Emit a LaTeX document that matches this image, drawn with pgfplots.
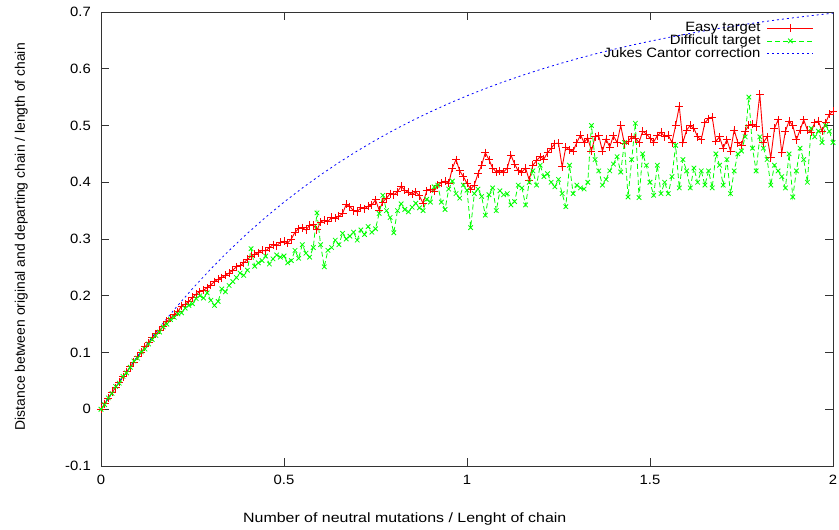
\documentclass[border=0pt]{standalone}
\usepackage{pgfplots}
\pgfplotsset{compat=1.18}
\usepackage{pgfplotstable}
\usepackage{fontspec}
\setmainfont{Liberation Sans}[FakeStretch=1.1]
\newfontfamily\xlabfont{Liberation Sans}[FakeStretch=1.18]
\newfontfamily\ylabfont{Liberation Sans}

\pgfplotstableread{
x y
0.00 0.000
0.01 0.010
0.02 0.019
0.03 0.030
0.04 0.038
0.05 0.048
0.06 0.057
0.07 0.066
0.08 0.075
0.09 0.083
0.10 0.093
0.11 0.100
0.12 0.110
0.13 0.117
0.14 0.127
0.15 0.133
0.16 0.139
0.17 0.146
0.18 0.155
0.19 0.160
0.20 0.167
0.21 0.172
0.22 0.182
0.23 0.185
0.24 0.190
0.25 0.197
0.26 0.203
0.27 0.207
0.28 0.210
0.29 0.214
0.30 0.219
0.31 0.225
0.32 0.229
0.33 0.232
0.34 0.236
0.35 0.240
0.36 0.245
0.37 0.251
0.38 0.253
0.39 0.258
0.40 0.264
0.41 0.270
0.42 0.273
0.43 0.276
0.44 0.280
0.45 0.279
0.46 0.285
0.47 0.290
0.48 0.288
0.49 0.294
0.50 0.296
0.51 0.293
0.52 0.300
0.53 0.312
0.54 0.318
0.55 0.320
0.56 0.316
0.57 0.324
0.58 0.325
0.59 0.316
0.60 0.330
0.61 0.333
0.62 0.331
0.63 0.338
0.64 0.337
0.65 0.340
0.66 0.345
0.67 0.361
0.68 0.357
0.69 0.350
0.70 0.348
0.71 0.355
0.72 0.353
0.73 0.358
0.74 0.360
0.75 0.369
0.76 0.351
0.77 0.365
0.78 0.372
0.79 0.380
0.80 0.378
0.81 0.383
0.82 0.393
0.83 0.386
0.84 0.382
0.85 0.379
0.86 0.383
0.87 0.376
0.88 0.363
0.89 0.385
0.90 0.388
0.91 0.384
0.92 0.395
0.93 0.399
0.94 0.402
0.95 0.398
0.96 0.425
0.97 0.440
0.98 0.420
0.99 0.410
1.00 0.398
1.01 0.388
1.02 0.395
1.03 0.415
1.04 0.430
1.05 0.452
1.06 0.440
1.07 0.425
1.08 0.418
1.09 0.420
1.10 0.418
1.11 0.425
1.12 0.448
1.13 0.432
1.14 0.420
1.15 0.418
1.16 0.425
1.17 0.404
1.18 0.430
1.19 0.438
1.20 0.445
1.21 0.441
1.22 0.452
1.23 0.460
1.24 0.468
1.25 0.469
1.26 0.427
1.27 0.462
1.28 0.457
1.29 0.455
1.30 0.470
1.31 0.483
1.32 0.470
1.33 0.478
1.34 0.455
1.35 0.480
1.36 0.482
1.37 0.455
1.38 0.476
1.39 0.462
1.40 0.482
1.41 0.470
1.42 0.500
1.43 0.468
1.44 0.472
1.45 0.480
1.46 0.478
1.47 0.470
1.48 0.490
1.49 0.485
1.50 0.478
1.51 0.471
1.52 0.482
1.53 0.488
1.54 0.480
1.55 0.483
1.56 0.470
1.57 0.500
1.58 0.534
1.59 0.470
1.60 0.492
1.61 0.500
1.62 0.495
1.63 0.480
1.64 0.475
1.65 0.505
1.66 0.512
1.67 0.515
1.68 0.472
1.69 0.480
1.70 0.460
1.71 0.475
1.72 0.455
1.73 0.492
1.74 0.470
1.75 0.465
1.76 0.490
1.77 0.500
1.78 0.502
1.79 0.498
1.80 0.555
1.81 0.470
1.82 0.480
1.83 0.443
1.84 0.495
1.85 0.510
1.86 0.452
1.87 0.490
1.88 0.508
1.89 0.500
1.90 0.475
1.91 0.492
1.92 0.510
1.93 0.492
1.94 0.488
1.95 0.505
1.96 0.508
1.97 0.490
1.98 0.505
1.99 0.520
2.00 0.525
}\easy

\pgfplotstableread{
x y
0.00 0.000
0.01 0.008
0.02 0.020
0.03 0.028
0.04 0.040
0.05 0.046
0.06 0.058
0.07 0.064
0.08 0.074
0.09 0.085
0.10 0.090
0.11 0.101
0.12 0.106
0.13 0.115
0.14 0.123
0.15 0.130
0.16 0.136
0.17 0.145
0.18 0.150
0.19 0.158
0.20 0.162
0.21 0.168
0.22 0.170
0.23 0.178
0.24 0.183
0.25 0.186
0.26 0.195
0.27 0.200
0.28 0.196
0.29 0.205
0.30 0.192
0.31 0.183
0.32 0.190
0.33 0.212
0.34 0.207
0.35 0.218
0.36 0.225
0.37 0.232
0.38 0.240
0.39 0.236
0.40 0.245
0.41 0.283
0.42 0.252
0.43 0.258
0.44 0.262
0.45 0.270
0.46 0.256
0.47 0.265
0.48 0.272
0.49 0.268
0.50 0.270
0.51 0.258
0.52 0.262
0.53 0.280
0.54 0.266
0.55 0.290
0.56 0.275
0.57 0.268
0.58 0.285
0.59 0.346
0.60 0.290
0.61 0.251
0.62 0.280
0.63 0.285
0.64 0.298
0.65 0.290
0.66 0.310
0.67 0.300
0.68 0.305
0.69 0.312
0.70 0.298
0.71 0.316
0.72 0.308
0.73 0.322
0.74 0.312
0.75 0.318
0.76 0.345
0.77 0.377
0.78 0.350
0.79 0.338
0.80 0.311
0.81 0.350
0.82 0.362
0.83 0.352
0.84 0.348
0.85 0.356
0.86 0.363
0.87 0.355
0.88 0.350
0.89 0.370
0.90 0.365
0.91 0.392
0.92 0.395
0.93 0.365
0.94 0.352
0.95 0.388
0.96 0.402
0.97 0.380
0.98 0.372
0.99 0.395
1.00 0.386
1.01 0.320
1.02 0.380
1.03 0.388
1.04 0.375
1.05 0.342
1.06 0.378
1.07 0.390
1.08 0.350
1.09 0.385
1.10 0.378
1.11 0.380
1.12 0.360
1.13 0.366
1.14 0.395
1.15 0.390
1.16 0.360
1.17 0.400
1.18 0.420
1.19 0.395
1.20 0.430
1.21 0.410
1.22 0.415
1.23 0.400
1.24 0.392
1.25 0.405
1.26 0.380
1.27 0.357
1.28 0.430
1.29 0.380
1.30 0.395
1.31 0.390
1.32 0.388
1.33 0.400
1.34 0.500
1.35 0.440
1.36 0.420
1.37 0.395
1.38 0.405
1.39 0.420
1.40 0.432
1.41 0.445
1.42 0.418
1.43 0.470
1.44 0.374
1.45 0.440
1.46 0.504
1.47 0.373
1.48 0.450
1.49 0.430
1.50 0.400
1.51 0.377
1.52 0.430
1.53 0.380
1.54 0.400
1.55 0.380
1.56 0.410
1.57 0.465
1.58 0.390
1.59 0.440
1.60 0.420
1.61 0.390
1.62 0.425
1.63 0.400
1.64 0.420
1.65 0.395
1.66 0.420
1.67 0.390
1.68 0.450
1.69 0.430
1.70 0.395
1.71 0.440
1.72 0.380
1.73 0.420
1.74 0.450
1.75 0.455
1.76 0.480
1.77 0.550
1.78 0.460
1.79 0.420
1.80 0.480
1.81 0.460
1.82 0.440
1.83 0.395
1.84 0.430
1.85 0.420
1.86 0.410
1.87 0.390
1.88 0.450
1.89 0.374
1.90 0.420
1.91 0.460
1.92 0.440
1.93 0.400
1.94 0.495
1.95 0.480
1.96 0.490
1.97 0.470
1.98 0.500
1.99 0.490
2.00 0.470
}\difficult

\pgfplotstableread{
x y
0.00 0.00000
0.05 0.04837
0.10 0.09362
0.15 0.13595
0.20 0.17555
0.25 0.21260
0.30 0.24726
0.35 0.27968
0.40 0.31001
0.45 0.33839
0.50 0.36494
0.55 0.38977
0.60 0.41300
0.65 0.43474
0.70 0.45507
0.75 0.47409
0.80 0.49189
0.85 0.50853
0.90 0.52411
0.95 0.53867
1.00 0.55230
1.05 0.56505
1.10 0.57698
1.15 0.58814
1.20 0.59858
1.25 0.60834
1.30 0.61748
1.35 0.62603
1.40 0.63402
1.45 0.64150
1.50 0.64850
1.55 0.65504
1.60 0.66116
1.65 0.66690
1.70 0.67226
1.75 0.67727
1.80 0.68196
1.85 0.68635
1.90 0.69046
1.95 0.69430
2.00 0.69789
}\jc

\begin{document}
\fontsize{13.5bp}{16bp}\selectfont
\begin{tikzpicture}
\useasboundingbox (-101bp,-64bp) rectangle (738bp,466bp);
\begin{axis}[
  at={(0,0)}, anchor=south west,
  scale only axis, width=732bp, height=454bp,
  xmin=0, xmax=2, ymin=-0.1, ymax=0.7,
  xtick={0,0.5,1,1.5,2},
  xticklabels={0,0.5,1,1.5,2},
  ytick={-0.1,0,0.1,0.2,0.3,0.4,0.5,0.6,0.7},
  yticklabels={-0.1,0,0.1,0.2,0.3,0.4,0.5,0.6,0.7},
  tick align=inside,
  major tick length=8bp,
  minor tick num=0,
  axis line style={line width=0.8bp, black!80},
  every tick/.style={line width=0.8bp, black!80},
  /pgf/number format/assume math mode=true,
  yticklabel style={inner sep=0pt, xshift=-10bp},
  xticklabel style={inner sep=0pt, yshift=-9bp},
  xlabel={\xlabfont Number of neutral mutations / Lenght of chain},
  ylabel={Distance between original and departing chain / length of chain},
  xlabel style={at={(axis description cs:0.415,-0.117)}, anchor=center},
  ylabel style={at={(axis description cs:-0.109,0.505)}, anchor=center,
    font=\ylabfont\fontsize{13.9bp}{16bp}\selectfont},
  legend cell align=right,
  legend plot pos=right,
  legend style={at={(1,1)}, anchor=north east, xshift=-19bp, yshift=-9bp,
    draw=none, fill=none, inner sep=0pt, row sep=-2bp, column sep=5bp,
    nodes={inner sep=1.5bp}},
  legend image code/.code={
    \draw[mark repeat=2, mark phase=2, #1] plot coordinates {(0bp,0bp) (23bp,0bp) (46bp,0bp)};
  },
]
\addplot[red, line width=0.9bp, mark=+, mark size=4bp, mark options={solid, red}] table {\easy};
\addlegendentry{Easy target}
\addplot[green, line width=0.8bp, dash pattern=on 5bp off 3bp, mark=x, mark size=3.2bp, mark options={solid, green}] table {\difficult};
\addlegendentry{Difficult target}
\addplot[blue, line width=0.8bp, dash pattern=on 2bp off 3bp] table {\jc};
\addlegendentry{Jukes Cantor correction}
\end{axis}
\end{tikzpicture}
\end{document}
